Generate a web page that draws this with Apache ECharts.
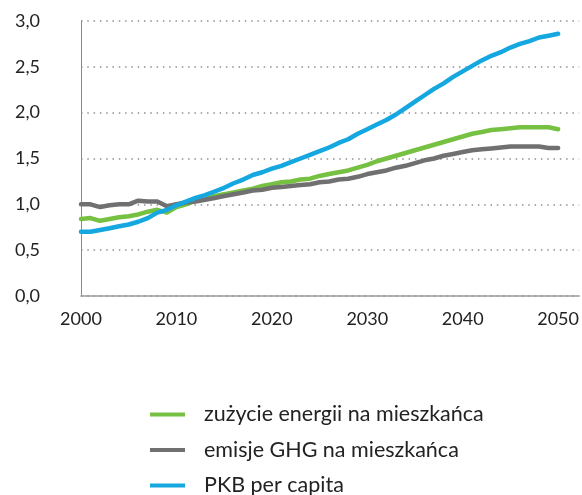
<!DOCTYPE html>
<html>
<head>
<meta charset="utf-8">
<style>
  html, body { margin: 0; padding: 0; background: #fff; }
  #chart { width: 582px; height: 495px; }
</style>
<script src="https://cdn.jsdelivr.net/npm/echarts@6/dist/echarts.min.js"></script>
</head>
<body>
<div id="chart"></div>
<script>
// lata 2000-2050
var years = [];
for (var y = 2000; y <= 2050; y++) years.push(y);

var seriesNames = ['zużycie energii na mieszkańca', 'emisje GHG na mieszkańca', 'PKB per capita'];

// zużycie energii na mieszkańca (2000 = ok. 0,84)
var energia = [0.84, 0.85, 0.82, 0.84, 0.86, 0.87, 0.89, 0.92, 0.94, 0.91,
  0.97, 1.00, 1.04, 1.07, 1.09, 1.11, 1.13, 1.15, 1.17, 1.20,
  1.22, 1.24, 1.25, 1.27, 1.28, 1.31, 1.33, 1.35, 1.37, 1.40,
  1.43, 1.47, 1.50, 1.53, 1.56, 1.59, 1.62, 1.65, 1.68, 1.71,
  1.74, 1.77, 1.79, 1.81, 1.82, 1.83, 1.84, 1.84, 1.84, 1.84, 1.82];

// emisje GHG na mieszkańca
var emisje = [1.00, 1.00, 0.97, 0.99, 1.00, 1.00, 1.04, 1.03, 1.03, 0.98,
  1.00, 1.02, 1.03, 1.05, 1.07, 1.09, 1.11, 1.13, 1.15, 1.16,
  1.18, 1.19, 1.20, 1.21, 1.22, 1.24, 1.25, 1.27, 1.28, 1.30,
  1.33, 1.35, 1.37, 1.40, 1.42, 1.45, 1.48, 1.50, 1.53, 1.55,
  1.57, 1.59, 1.60, 1.61, 1.62, 1.63, 1.63, 1.63, 1.63, 1.615, 1.615];

// PKB per capita
var pkb = [0.70, 0.70, 0.72, 0.74, 0.76, 0.78, 0.81, 0.85, 0.91, 0.94,
  0.99, 1.03, 1.07, 1.10, 1.14, 1.18, 1.23, 1.27, 1.32, 1.35,
  1.39, 1.42, 1.46, 1.50, 1.54, 1.58, 1.62, 1.67, 1.71, 1.77,
  1.82, 1.87, 1.92, 1.98, 2.05, 2.12, 2.19, 2.26, 2.32, 2.39,
  2.45, 2.51, 2.57, 2.62, 2.66, 2.71, 2.75, 2.78, 2.82, 2.84, 2.86];

var colors = ['#76c142', '#707070', '#14a7e0'];
var font = 'Lato, "DejaVu Sans", sans-serif';

function pairs(vals) {
  return years.map(function (yr, i) { return [yr, vals[i]]; });
}

function makeSeries(name, vals, color) {
  return {
    name: name,
    type: 'line',
    data: pairs(vals),
    symbol: 'none',
    showSymbol: false,
    lineStyle: { color: color, width: 4.5, cap: 'round', join: 'round' },
    itemStyle: { color: color }
  };
}

var chart = echarts.init(document.getElementById('chart'));
chart.setOption({
  animation: false,
  grid: { left: 81, right: 1, top: 21, bottom: 199 },
  xAxis: {
    type: 'value',
    min: 2000,
    max: 2052.2,
    interval: 10,
    axisLine: { show: true, lineStyle: { color: '#9a9a9a', width: 1.5 } },
    axisTick: { show: false },
    splitLine: { show: false },
    axisLabel: {
      color: '#222', fontSize: 18, fontFamily: font, margin: 14,
      showMaxLabel: false,
      formatter: function (v) { return v % 10 === 0 ? String(v) : ''; }
    }
  },
  yAxis: {
    type: 'value',
    min: 0,
    max: 3,
    interval: 0.5,
    axisLine: { show: true, lineStyle: { color: '#8a8a8a', width: 1 } },
    axisTick: { show: false },
    splitLine: { show: true, lineStyle: { color: '#8f8f8f', width: 1.5, type: [1.5, 4.8] } },
    axisLabel: {
      color: '#222', fontSize: 18, fontFamily: font, margin: 41,
      formatter: function (v) { return v.toFixed(1).replace('.', ','); }
    }
  },
  legend: {
    orient: 'vertical',
    left: 150,
    top: 403.5,
    height: 120,
    padding: 0,
    icon: 'rect',
    itemWidth: 35,
    itemHeight: 4,
    itemGap: 13.5,
    data: seriesNames,
    textStyle: { color: '#222', fontSize: 21.5, fontFamily: font, lineHeight: 22, padding: [0, 0, 0, 14] }
  },
  series: [
    makeSeries(seriesNames[0], energia, colors[0]),
    makeSeries(seriesNames[1], emisje, colors[1]),
    makeSeries(seriesNames[2], pkb, colors[2])
  ]
});
</script>
</body>
</html>
